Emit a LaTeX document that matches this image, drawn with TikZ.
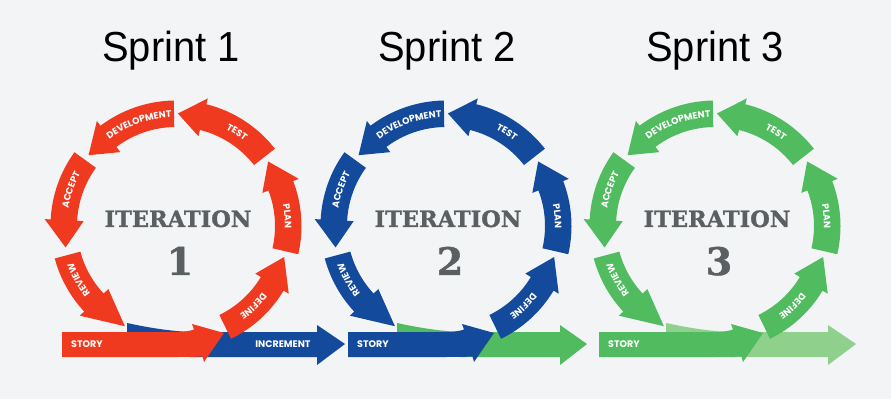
\documentclass[tikz,border=0pt]{standalone}
\usepackage{fontspec}
\setmainfont{Liberation Sans}
\newfontfamily\iterfont{DejaVu Serif}[FakeBold=1.2]
\newfontfamily\lblfont{Poppins}
\usepackage{xcolor}
\definecolor{bgColor}{HTML}{F3F4F6}
\definecolor{redColor}{HTML}{EF3A20}
\definecolor{blueColor}{HTML}{134A9B}
\definecolor{greenColor}{HTML}{50BB5F}
\definecolor{paleColor}{HTML}{8FD08D}
\definecolor{textGray}{HTML}{5A6061}
\usepackage{tikz}
\usetikzlibrary{decorations.text}

% radii of the cycle band
\def\rout{125.5}
\def\rin{99}
\def\rmid{112.5}
\def\rhout{131.5}
\def\rhin{92.5}
\def\rtext{109}

% curved band arrow: tail angle, head base angle, tip angle
\newcommand{\cyclearrow}[3]{%
    \fill (#1:\rout pt) arc[start angle=#1, end angle=#2, radius=\rout pt]
        -- (#2:\rhout pt) -- (#3:\rmid pt) -- (#2:\rhin pt) -- (#2:\rin pt)
        arc[start angle=#2, end angle=#1, radius=\rin pt] -- cycle;}

% white label along the band, centred on an angle
\newcommand{\arclabel}[2]{%
    \pgfmathsetmacro{\la}{#1+30}\pgfmathsetmacro{\lb}{#1-30}%
    \path[decorate, decoration={text along path, text align=center,
        text={|\lblfont\bfseries\fontsize{9.3}{10}\selectfont\color{white}|#2}}]
        (\la:\rtext pt) arc[start angle=\la, end angle=\lb, radius=\rtext pt];}

\tikzset{
    sprinttitle/.style={font=\fontsize{42}{44}\selectfont, text=black, anchor=base, xscale=0.95},
    itertext/.style={font=\iterfont\bfseries\fontsize{22.5}{24}\selectfont, text=textGray, anchor=base},
    iternum/.style={font=\iterfont\bfseries\fontsize{38}{40}\selectfont, text=textGray, anchor=base},
    barlabel/.style={font=\lblfont\bfseries\fontsize{9.5}{11}\selectfont, text=white, anchor=west, inner sep=0pt},
}

\begin{document}
\begin{tikzpicture}[x=1pt, y=1pt]
    \fill[bgColor] (0,0) rectangle (891,399);
    \useasboundingbox (0,0) rectangle (891,399);

    \foreach \off/\col/\inc/\num/\sx/\ib/\it/\tx in {%
        0/redColor/blueColor/1/62/317/345/171,
        270/blueColor/greenColor/2/78/290/317/177,
        539/greenColor/paleColor/3/60/289/317/176}{
    \begin{scope}[shift={(\off pt,0)}]
        % increment, coloured as the next sprint
        \fill[\inc] (127,50) -- (127,76) .. controls (150,71) and (170,68) .. (190,67)
            -- (\ib,67) -- (\ib,74) -- (\it,55) -- (\ib,34) -- (\ib,42) -- (190,42) -- cycle;
        % story bar
        \fill[\col] (\sx,42) -- (\sx,67) -- (172,67) .. controls (184,67) and (190,68) .. (194,69.5)
            -- (192,75) -- (224,66) -- (204,37) -- (202.5,42.5) .. controls (190,42) .. (172,42) -- cycle;
        \node[barlabel] (story\num) at (\sx+9,54.5) {STORY};
        \ifnum\num=1
            \node[barlabel, anchor=center] (incr\num) at (283,54.5) {INCREMENT};
        \fi

        \node[sprinttitle] (title\num) at (\tx,337) {Sprint \num};
        \node[itertext] (iter\num) at (178,172) {ITERATION};
        \node[iternum] (num\num) at (180,124) {\num};

        \begin{scope}[shift={(176,173)}, fill=\col]
            \cyclearrow{-64}{-31}{-16}
            \cyclearrow{-13}{21}{35}
            \cyclearrow{38}{76}{89}
            \cyclearrow{91}{127}{141}
            \cyclearrow{144}{177}{191}
            \cyclearrow{195}{223}{243}
            \arclabel{-46}{DEFINE}
            \arclabel{5}{PLAN}
            \arclabel{57}{TEST}
            \arclabel{110}{DEVELOPMENT}
            \arclabel{161}{ACCEPT}
            \arclabel{209}{REVIEW}
        \end{scope}
    \end{scope}
    }
\end{tikzpicture}
\end{document}
